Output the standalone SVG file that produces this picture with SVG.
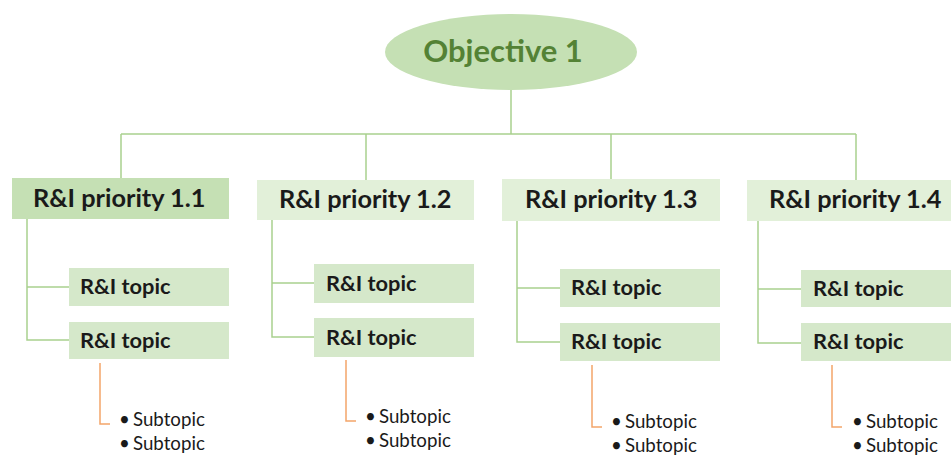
<svg xmlns="http://www.w3.org/2000/svg" width="951" height="455" viewBox="0 0 951 455">
  <style>
    .bg { fill: #ffffff; }
    .obj { fill: #C5E0B4; }
    .pri-main { fill: #C5E0B4; }
    .pri { fill: #E2F0D9; }
    .topic { fill: #D5E8CA; }
    .lbl { font-family: Lato, "Liberation Sans", sans-serif; font-weight: bold; fill: #1a1a1a; }
    .obj-lbl { font-family: Lato, "Liberation Sans", sans-serif; font-weight: bold; font-size: 31px; fill: #548235; }
    .pri-lbl { font-size: 25.3px; }
    .topic-lbl { font-size: 21.8px; }
    .sub { font-family: Lato, "Liberation Sans", sans-serif; font-size: 18.7px; fill: #1a1a1a; }
    .link { fill: none; stroke: #A9D18E; stroke-width: 1.5; }
    .sublink { fill: none; stroke: #F4A56A; stroke-width: 1.5; }
  </style>
  <rect class="bg" x="0" y="0" width="951" height="455"/>

  <!-- connectors -->
  <g id="connectors">
    <path class="link" d="M511 90 V134 M121 134 H856 M121 134 V178 M366 134 V180 M611 134 V179 M856 134 V180"/>
    <path class="link" d="M27 219 V340 H69 M27 287 H69"/>
    <path class="link" d="M272 220 V337 H314 M272 283 H314"/>
    <path class="link" d="M517 221 V342 H560 M517 288 H560"/>
    <path class="link" d="M758 221 V343 H801 M758 289 H801"/>
    <path class="sublink" d="M100 363 V424 H110"/>
    <path class="sublink" d="M346 360 V421 H356"/>
    <path class="sublink" d="M592 365 V427 H602"/>
    <path class="sublink" d="M832 365 V427 H842"/>
  </g>

  <!-- root -->
  <g id="objective-1">
    <ellipse class="obj" cx="511" cy="52" rx="126" ry="38"/>
    <text class="obj-lbl" x="503" y="62" text-anchor="middle">Objective 1</text>
  </g>

  <!-- priority 1.1 -->
  <g id="priority-1-1">
    <rect class="pri-main" x="12" y="178" width="217" height="41"/>
    <text class="lbl pri-lbl" x="33" y="207">R&amp;I priority 1.1</text>
  </g>
  <g id="topic-1-1-a">
    <rect class="topic" x="69" y="268" width="160" height="38"/>
    <text class="lbl topic-lbl" x="80" y="294">R&amp;I topic</text>
  </g>
  <g id="topic-1-1-b">
    <rect class="topic" x="69" y="322" width="160" height="37"/>
    <text class="lbl topic-lbl" x="80" y="348">R&amp;I topic</text>
  </g>
  <g id="subtopics-1-1">
    <text class="sub" x="119" y="426">•</text><text class="sub" x="133" y="426">Subtopic</text>
    <text class="sub" x="119" y="450">•</text><text class="sub" x="133" y="450">Subtopic</text>
  </g>

  <!-- priority 1.2 -->
  <g id="priority-1-2">
    <rect class="pri" x="257" y="180" width="217" height="40"/>
    <text class="lbl pri-lbl" x="279" y="208">R&amp;I priority 1.2</text>
  </g>
  <g id="topic-1-2-a">
    <rect class="topic" x="314" y="264" width="160" height="39"/>
    <text class="lbl topic-lbl" x="326" y="291">R&amp;I topic</text>
  </g>
  <g id="topic-1-2-b">
    <rect class="topic" x="314" y="318" width="160" height="39"/>
    <text class="lbl topic-lbl" x="326" y="345">R&amp;I topic</text>
  </g>
  <g id="subtopics-1-2">
    <text class="sub" x="365" y="423">•</text><text class="sub" x="379" y="423">Subtopic</text>
    <text class="sub" x="365" y="447">•</text><text class="sub" x="379" y="447">Subtopic</text>
  </g>

  <!-- priority 1.3 -->
  <g id="priority-1-3">
    <rect class="pri" x="502" y="179" width="218" height="42"/>
    <text class="lbl pri-lbl" x="525" y="208">R&amp;I priority 1.3</text>
  </g>
  <g id="topic-1-3-a">
    <rect class="topic" x="560" y="269" width="160" height="38"/>
    <text class="lbl topic-lbl" x="571" y="295">R&amp;I topic</text>
  </g>
  <g id="topic-1-3-b">
    <rect class="topic" x="560" y="323" width="160" height="38"/>
    <text class="lbl topic-lbl" x="571" y="349">R&amp;I topic</text>
  </g>
  <g id="subtopics-1-3">
    <text class="sub" x="611" y="428">•</text><text class="sub" x="625" y="428">Subtopic</text>
    <text class="sub" x="611" y="452">•</text><text class="sub" x="625" y="452">Subtopic</text>
  </g>

  <!-- priority 1.4 -->
  <g id="priority-1-4">
    <rect class="pri" x="747" y="180" width="204" height="41"/>
    <text class="lbl pri-lbl" x="769" y="208">R&amp;I priority 1.4</text>
  </g>
  <g id="topic-1-4-a">
    <rect class="topic" x="801" y="270" width="150" height="37"/>
    <text class="lbl topic-lbl" x="813" y="296">R&amp;I topic</text>
  </g>
  <g id="topic-1-4-b">
    <rect class="topic" x="801" y="323" width="150" height="38"/>
    <text class="lbl topic-lbl" x="813" y="349">R&amp;I topic</text>
  </g>
  <g id="subtopics-1-4">
    <text class="sub" x="852" y="428">•</text><text class="sub" x="866" y="428">Subtopic</text>
    <text class="sub" x="852" y="452">•</text><text class="sub" x="866" y="452">Subtopic</text>
  </g>
</svg>
